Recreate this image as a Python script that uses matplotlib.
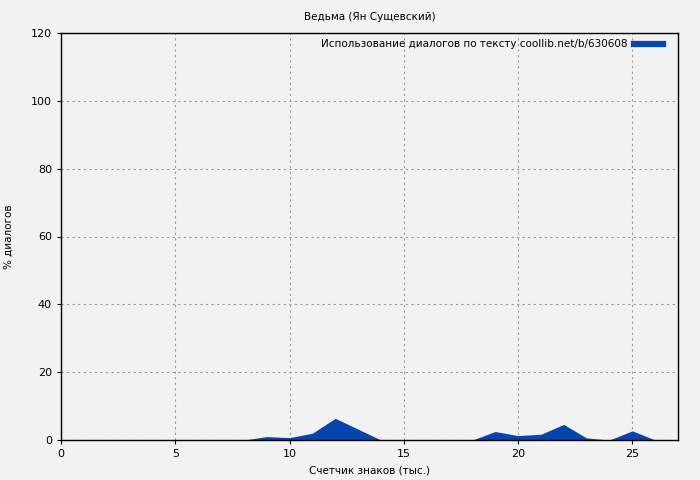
import matplotlib
matplotlib.use("Agg")
import matplotlib.pyplot as plt
from matplotlib.lines import Line2D

x_vals = [0, 1, 2, 3, 4, 5, 6, 7, 8, 9, 10, 11, 12, 13, 14, 15, 16, 17, 18, 19, 20, 21, 22, 23, 24, 25, 26]
y_vals = [0, 0, 0, 0, 0, 0, 0, 0, 0, 1.0, 0.7, 2.0, 6.4, 3.2, 0, 0, 0, 0, 0, 2.5, 1.3, 1.7, 4.6, 0.6, 0, 2.7, 0]
x_ticks = [0, 5, 10, 15, 20, 25]
y_ticks = [0, 20, 40, 60, 80, 100, 120]

title = "Ведьма (Ян Сущевский)"
legend_label = "Использование диалогов по тексту coollib.net/b/630608"
xlabel = "Счетчик знаков (тыс.)"
ylabel = "% диалогов"

color = "#0645ad"
bg = "#f2f2f2"

fig = plt.figure(figsize=(7, 4.8), dpi=100, facecolor=bg)
ax = fig.add_axes([61/700, 1 - 440/480, (678-61)/700, (440-33)/480], facecolor=bg)

ax.fill_between(x_vals, y_vals, 0, color=color, linewidth=0, label=legend_label)
ax.set_xlim(0, 27)
ax.set_ylim(0, 120)
ax.set_xticks(x_ticks)
ax.set_yticks(y_ticks)
ax.tick_params(labelsize=8, length=3, direction="out", color="black")
ax.grid(True, color="#999999", linestyle=(0, (2, 3)), linewidth=0.8)
ax.set_axisbelow(True)
for s in ax.spines.values():
    s.set_color("black")
    s.set_linewidth(1)

ax.set_title(title, fontsize=7.5, pad=9.5)
ax.set_xlabel(xlabel, fontsize=7.5, labelpad=4.5)
ax.set_ylabel(ylabel, fontsize=7.5, labelpad=12.5)

handle = Line2D([0], [0], color=color, linewidth=4.5)
leg = ax.legend([handle], [legend_label], loc="upper right", fontsize=7.5,
                frameon=False, markerfirst=False, handlelength=2.8,
                bbox_to_anchor=(1 - 8/617, 1 + 1/407),
                borderaxespad=0.3, handletextpad=0.6)

fig.savefig("out.png", dpi=100, facecolor=bg)
